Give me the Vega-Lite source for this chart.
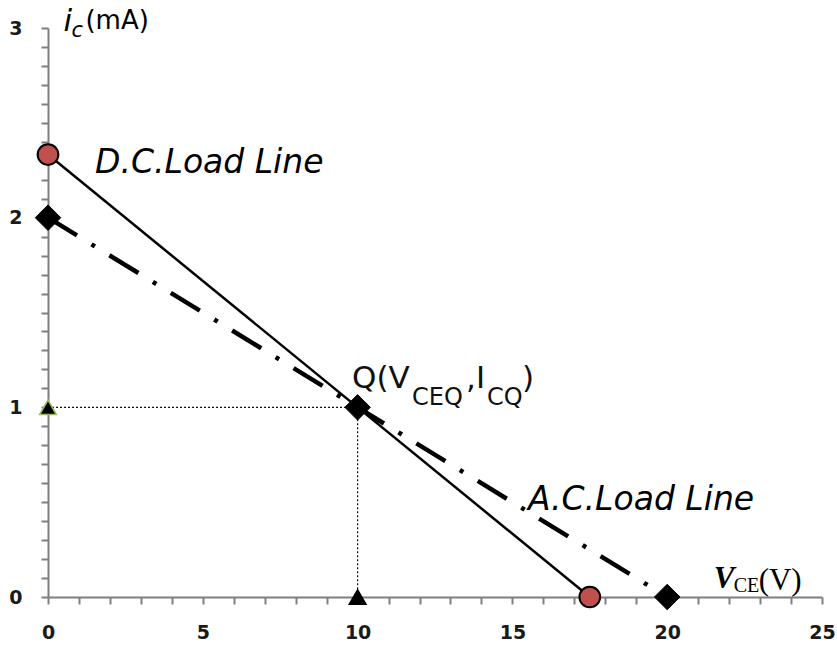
{
  "$schema": "https://vega.github.io/schema/vega-lite/v6.json",
  "width": 774,
  "height": 569,
  "autosize": {"type": "none"},
  "padding": {"left": 48, "top": 28, "right": 15, "bottom": 56},
  "background": "white",
  "config": {"view": {"stroke": null}},
  "datasets": {
    "guides": [
      {"seg": "h", "v": 0, "i": 1},
      {"seg": "h", "v": 10, "i": 1},
      {"seg": "v", "v": 10, "i": 1},
      {"seg": "v", "v": 10, "i": 0}
    ],
    "dc": [
      {"v": 0, "i": 2.333},
      {"v": 17.5, "i": 0}
    ],
    "ac": [
      {"v": 0, "i": 2},
      {"v": 10, "i": 1},
      {"v": 20, "i": 0}
    ],
    "tri": [
      {"v": 0, "i": 1, "edge": "green"},
      {"v": 10, "i": 0, "edge": "black"}
    ],
    "anchors": [
      {"name": "dc", "v": 1.52, "i": 2.235},
      {"name": "ac", "v": 15.5, "i": 0.459},
      {"name": "q", "v": 9.82, "i": 1.1},
      {"name": "vce", "v": 21.5, "i": 0.045},
      {"name": "ic", "v": 0.5, "i": 2.985}
    ]
  },
  "encoding": {
    "x": {
      "field": "v", "type": "quantitative",
      "scale": {"domain": [0, 25], "nice": false, "zero": false},
      "axis": {
        "values": [0,1,2,3,4,5,6,7,8,9,10,11,12,13,14,15,16,17,18,19,20,21,22,23,24,25],
        "labelExpr": "datum.value % 5 === 0 ? format(datum.value, 'd') : ''",
        "labelOverlap": false, "labelFlush": false,
        "title": null, "grid": false,
        "domainColor": "#7f7f7f", "domainWidth": 2,
        "tickColor": "#7f7f7f", "tickWidth": 2, "tickSize": 7,
        "labelFont": "DejaVu Sans", "labelFontWeight": "bold", "labelFontSize": 19,
        "labelColor": "#1a1a1a", "labelPadding": 19
      }
    },
    "y": {
      "field": "i", "type": "quantitative",
      "scale": {"domain": [0, 3], "nice": false, "zero": false},
      "axis": {
        "values": [0,0.1,0.2,0.3,0.4,0.5,0.6,0.7,0.8,0.9,1,1.1,1.2,1.3,1.4,1.5,1.6,1.7,1.8,1.9,2,2.1,2.2,2.3,2.4,2.5,2.6,2.7,2.8,2.9,3],
        "labelExpr": "datum.value % 1 === 0 ? format(datum.value, 'd') : ''",
        "labelOverlap": false, "labelFlush": false,
        "title": null, "grid": false,
        "domainColor": "#7f7f7f", "domainWidth": 2,
        "tickColor": "#7f7f7f", "tickWidth": 2, "tickSize": 7,
        "labelFont": "DejaVu Sans", "labelFontWeight": "bold", "labelFontSize": 19,
        "labelColor": "#1a1a1a", "labelPadding": 19
      }
    }
  },
  "layer": [
    {
      "data": {"name": "guides"},
      "mark": {"type": "line", "color": "#111111", "strokeWidth": 1.2, "strokeDash": [2, 2]},
      "encoding": {"detail": {"field": "seg"}}
    },
    {
      "data": {"name": "dc"},
      "mark": {"type": "line", "color": "black", "strokeWidth": 2.5}
    },
    {
      "data": {"name": "ac"},
      "mark": {"type": "line", "color": "black", "strokeWidth": 4.5, "strokeDash": [34, 17, 4, 17]}
    },
    {
      "data": {"name": "dc"},
      "mark": {"type": "point", "shape": "circle", "filled": true, "fill": "#c0504d", "stroke": "black", "strokeWidth": 2, "size": 430, "opacity": 1}
    },
    {
      "data": {"name": "ac"},
      "mark": {"type": "point", "shape": "diamond", "filled": true, "fill": "black", "stroke": "black", "strokeWidth": 1, "size": 650, "opacity": 1}
    },
    {
      "data": {"name": "tri"},
      "mark": {"type": "point", "shape": "triangle-up", "filled": true, "fill": "black", "strokeWidth": 1.5, "size": 280, "opacity": 1},
      "encoding": {
        "stroke": {"field": "edge", "type": "nominal", "scale": {"domain": ["green", "black"], "range": ["#9bbb59", "black"]}, "legend": null}
      }
    },
    {
      "data": {"name": "anchors"},
      "transform": [{"filter": "datum.name === 'dc'"}],
      "mark": {"type": "text", "text": "D.C.Load Line", "align": "left", "baseline": "alphabetic", "font": "DejaVu Sans", "fontStyle": "italic", "fontSize": 33, "color": "black"}
    },
    {
      "data": {"name": "anchors"},
      "transform": [{"filter": "datum.name === 'ac'"}],
      "mark": {"type": "text", "text": "A.C.Load Line", "align": "left", "baseline": "alphabetic", "font": "DejaVu Sans", "fontStyle": "italic", "fontSize": 33, "color": "black"}
    },
    {
      "data": {"name": "anchors"},
      "transform": [{"filter": "datum.name === 'q'"}],
      "mark": {"type": "text", "text": "Q(V", "align": "left", "baseline": "alphabetic", "font": "DejaVu Sans", "fontSize": 31, "color": "#111111"}
    },
    {
      "data": {"name": "anchors"},
      "transform": [{"filter": "datum.name === 'q'"}],
      "mark": {"type": "text", "text": "CEQ", "align": "left", "baseline": "alphabetic", "font": "DejaVu Sans", "fontSize": 24, "dx": 60, "dy": 17, "color": "#111111"}
    },
    {
      "data": {"name": "anchors"},
      "transform": [{"filter": "datum.name === 'q'"}],
      "mark": {"type": "text", "text": ",I", "align": "left", "baseline": "alphabetic", "font": "DejaVu Sans", "fontSize": 31, "dx": 114, "color": "#111111"}
    },
    {
      "data": {"name": "anchors"},
      "transform": [{"filter": "datum.name === 'q'"}],
      "mark": {"type": "text", "text": "CQ", "align": "left", "baseline": "alphabetic", "font": "DejaVu Sans", "fontSize": 24, "dx": 135, "dy": 17, "color": "#111111"}
    },
    {
      "data": {"name": "anchors"},
      "transform": [{"filter": "datum.name === 'q'"}],
      "mark": {"type": "text", "text": ")", "align": "left", "baseline": "alphabetic", "font": "DejaVu Sans", "fontSize": 31, "dx": 170, "color": "#111111"}
    },
    {
      "data": {"name": "anchors"},
      "transform": [{"filter": "datum.name === 'vce'"}],
      "mark": {"type": "text", "text": "V", "align": "left", "baseline": "alphabetic", "font": "Liberation Serif", "fontStyle": "italic", "fontWeight": "bold", "fontSize": 31, "color": "black"}
    },
    {
      "data": {"name": "anchors"},
      "transform": [{"filter": "datum.name === 'vce'"}],
      "mark": {"type": "text", "text": "CE", "align": "left", "baseline": "alphabetic", "font": "Liberation Serif", "fontSize": 20, "dx": 20, "dy": 4, "color": "black"}
    },
    {
      "data": {"name": "anchors"},
      "transform": [{"filter": "datum.name === 'vce'"}],
      "mark": {"type": "text", "text": "(V)", "align": "left", "baseline": "alphabetic", "font": "Liberation Serif", "fontSize": 31, "dx": 45, "dy": 2, "color": "black"}
    },
    {
      "data": {"name": "anchors"},
      "transform": [{"filter": "datum.name === 'ic'"}],
      "mark": {"type": "text", "text": "i", "align": "left", "baseline": "alphabetic", "font": "DejaVu Sans", "fontStyle": "italic", "fontSize": 31, "color": "black"}
    },
    {
      "data": {"name": "anchors"},
      "transform": [{"filter": "datum.name === 'ic'"}],
      "mark": {"type": "text", "text": "c", "align": "left", "baseline": "alphabetic", "font": "DejaVu Sans", "fontStyle": "italic", "fontSize": 21, "dx": 8, "dy": 6, "color": "black"}
    },
    {
      "data": {"name": "anchors"},
      "transform": [{"filter": "datum.name === 'ic'"}],
      "mark": {"type": "text", "text": "(mA)", "align": "left", "baseline": "alphabetic", "font": "DejaVu Sans", "fontSize": 26, "dx": 22, "dy": -2, "color": "black"}
    }
  ]
}
